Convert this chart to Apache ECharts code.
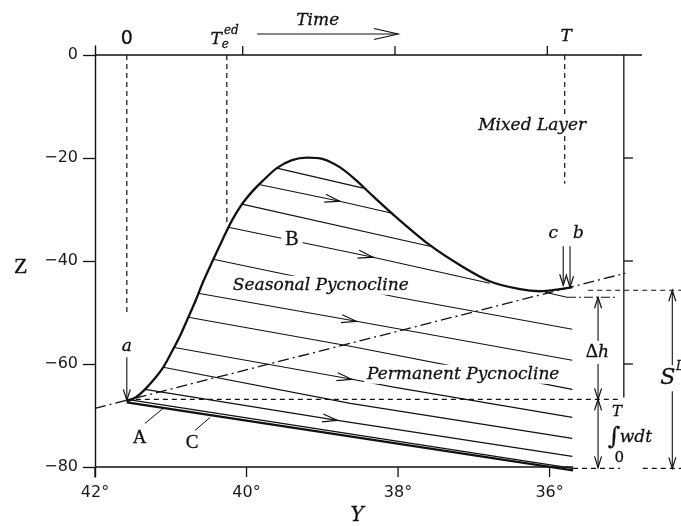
<!DOCTYPE html>
<html>
<head>
<meta charset="utf-8">
<script src="https://cdn.jsdelivr.net/npm/echarts@6/dist/echarts.min.js"></script>
<style>
  html, body { margin: 0; padding: 0; background: #fff; }
  #chart { width: 681px; height: 526px; }
</style>
</head>
<body>
<div id="chart"></div>
<script>
// ---- axis ticks ----
const zTicks = [-80, -60, -40, -20, 0];
const latTicks = [42, 40, 38, 36];
const timeTicks = [40.05, 38.04, 36.03];

// ---- base of the mixed layer through the year (latitude, depth) ----
const upperBoundary = [
  [41.58, -67.25], [41.46, -66.47], [41.34, -64.92], [41.22, -62.97], [41.10, -60.64],
  [40.99, -57.73], [40.88, -54.62], [40.78, -51.31], [40.67, -47.62], [40.57, -43.93],
  [40.45, -40.04], [40.32, -35.96], [40.19, -32.07], [40.06, -28.96], [39.92, -26.43],
  [39.79, -24.49], [39.60, -21.96], [39.40, -20.41], [39.20, -19.92], [38.99, -20.21],
  [38.77, -21.77], [38.57, -24.10], [38.33, -27.41], [38.01, -31.68], [37.58, -36.93],
  [37.18, -40.82], [36.79, -43.93], [36.39, -45.48], [36.13, -45.87], [35.86, -45.48],
  [35.70, -45.09]
];

// ---- isopycnal streamlines leaving the mixed layer ----
const streamlines = [
  [[39.60, -21.96], [38.46, -25.85]],
  [[39.82, -25.18], [38.77, -28.38], [38.08, -30.71]],
  [[40.06, -28.96], [37.58, -37.12]],
  [[40.24, -33.43], [38.33, -39.26], [36.79, -44.31]],
  [[40.44, -39.65], [39.62, -42.18], [38.01, -47.04], [35.70, -53.26]],
  [[40.64, -46.26], [38.55, -51.70], [35.70, -59.28]],
  [[40.77, -50.92], [38.63, -56.56], [35.70, -64.92]],
  [[40.97, -56.75], [38.61, -62.97], [38.04, -64.53], [35.70, -70.36]],
  [[41.10, -60.64], [38.63, -67.64], [35.70, -74.44]],
  [[41.34, -64.92], [38.80, -70.94], [35.70, -77.94]]
];
// arrow heads on streamlines: [tipY, tipZ, fromY, fromZ]
const streamArrows = [
  [38.77, -28.38, 39.82, -25.18],
  [38.33, -39.26, 40.24, -33.43],
  [38.55, -51.70, 40.64, -46.26],
  [38.61, -62.97, 40.97, -56.75],
  [38.80, -70.94, 41.34, -64.92]
];

// ---- bottom of the subducted layer (A, C) ----
const lineA = [[41.58, -67.44], [35.69, -80.66]];
const lineC = [[41.58, -66.86], [35.69, -80.27]];

// ---- frame and guides ----
const topEdge = [[42, 0], [34.78, 0]];
const bottomEdge = [[42, -80], [35.69, -80]];
const bottomTickDepth = [-80, -81.94];
const rightEdge = [[35.02, 0], [35.02, -66.5]];
const rightTicks = [-20, -40, -60];
const timeVerticals = [[41.58, -50.53], [40.26, -32.46], [35.80, -25.0]];
const winterLevel = [[41.58, -66.86], [35.10, -66.86]];
const mixedLayerSlope = [[42, -68.61], [35.00, -42.37]];
const dhTopSolid = [[36.06, -46.06], [35.77, -47.04]];
const dhTopDashDot = [[35.77, -47.04], [35.11, -47.04]];
const slTop = [[35.49, -45.68], [34.26, -45.68]];
const slBottom = [[[35.69, -80.27], [35.07, -80.27]], [[34.77, -80.27], [34.26, -80.27]]];
const timeArrowLine = [[39.86, 4.08], [38.0, 4.08]];
const leaderA = [[41.34, -71.53], [41.10, -68.61]];
const leaderC = [[40.68, -72.89], [40.48, -70.36]];

// pointer arrows: [startY, startZ, endY, endZ]
const pointerA = [41.58, -58.70, 41.58, -67.06];
const pointerB = [35.73, -37.12, 35.73, -45.09];
const pointerC = [35.82, -37.12, 35.82, -44.70];
const deltaH = [35.36, -47.04, 35.36, -66.86];
const wdtSpan = [35.36, -66.86, 35.36, -80.08];
const subductionSpan = [34.38, -45.68, 34.38, -80.27];

// ---- text annotations ----
const annotations = [
  { text: '0', at: [41.58, 3.11], kind: 'sansBig' },
  { text: 'T', at: [40.40, 2.92], kind: 'italic' },
  { text: 'ed', at: [40.20, 4.76], kind: 'italicSmall' },
  { text: 'e', at: [40.28, 2.0], kind: 'italicSmall' },
  { text: 'Time', at: [39.06, 6.61], kind: 'italic' },
  { text: 'T', at: [35.78, 3.50], kind: 'italic' },
  { text: 'Mixed Layer', at: [36.23, -13.61], kind: 'italicBox' },
  { text: 'B', at: [39.40, -35.96], kind: 'romanBox' },
  { text: 'Seasonal Pycnocline', at: [39.02, -44.70], kind: 'italicBox' },
  { text: 'Permanent Pycnocline', at: [37.14, -62.00], kind: 'italicBox' },
  { text: 'a', at: [41.58, -56.6], kind: 'italic' },
  { text: 'A', at: [41.41, -74.44], kind: 'roman' },
  { text: 'C', at: [40.72, -75.41], kind: 'roman' },
  { text: 'c', at: [35.95, -34.60], kind: 'italic' },
  { text: 'b', at: [35.62, -34.60], kind: 'italic' },
  { text: '{r|Δ}{i|h}', at: [35.37, -57.73], kind: 'deltaBox' },
  { text: 'T', at: [35.11, -69.39], kind: 'italicSmall2' },
  { text: '∫', at: [35.15, -74.25], kind: 'integral' },
  { text: 'wdt', at: [34.86, -74.25], kind: 'italic' },
  { text: '0', at: [35.08, -78.33], kind: 'romanSmall' },
  { text: 'S', at: [34.44, -62.78], kind: 'italicBigBox' },
  { text: 'L', at: [34.28, -60.6], kind: 'italicSmall' },
  { text: 'Z', at: [42.98, -41.21], kind: 'romanBig' },
  { text: 'Y', at: [38.54, -89.41], kind: 'italicBig' }
];

const ink = '#111';
const SERIF = "'DejaVu Serif', serif";
const TIMES = "'Liberation Serif', serif";
const labelKinds = {
  sansBig: { fontFamily: "'DejaVu Sans', sans-serif", fontSize: 19 },
  italic: { fontFamily: SERIF, fontStyle: 'italic', fontSize: 17 },
  italicSmall: { fontFamily: SERIF, fontStyle: 'italic', fontSize: 12 },
  italicSmall2: { fontFamily: SERIF, fontStyle: 'italic', fontSize: 15 },
  italicBig: { fontFamily: SERIF, fontStyle: 'italic', fontSize: 20 },
  italicBox: { fontFamily: SERIF, fontStyle: 'italic', fontSize: 17, backgroundColor: '#fff', padding: [1, 3] },
  italicBigBox: { fontFamily: SERIF, fontStyle: 'italic', fontSize: 22, backgroundColor: '#fff', padding: [2, 1] },
  roman: { fontFamily: TIMES, fontSize: 19 },
  romanSmall: { fontFamily: SERIF, fontSize: 15 },
  romanBig: { fontFamily: TIMES, fontSize: 22 },
  romanBox: { fontFamily: TIMES, fontSize: 20, backgroundColor: '#fff', padding: [0, 4] },
  integral: { fontFamily: SERIF, fontStyle: 'italic', fontSize: 24 },
  deltaBox: {
    backgroundColor: '#fff', padding: [2, 1],
    rich: {
      r: { fontFamily: TIMES, fontSize: 19, color: ink, textBorderColor: ink, textBorderWidth: 0.3 },
      i: { fontFamily: SERIF, fontStyle: 'italic', fontSize: 17, color: ink, textBorderColor: ink, textBorderWidth: 0.3 }
    }
  }
};

function seg(coords, style) {
  return { coords: coords, lineStyle: Object.assign({ color: ink, width: 1, opacity: 1, type: 'solid' }, style || {}) };
}
const dashed = { type: [5, 4], width: 1.2 };
const dashDot = { type: [11, 4, 2, 4], width: 1.3 };

const lineItems = [];
streamlines.forEach(s => lineItems.push(seg(s, { width: 1.1 })));
lineItems.push(seg(lineC, { width: 1.2 }));
lineItems.push(seg(lineA, { width: 2.4 }));
lineItems.push(seg(topEdge, { width: 1.6 }));
lineItems.push(seg(bottomEdge, { width: 1.4 }));
latTicks.forEach(y => lineItems.push(seg([[y, bottomTickDepth[0]], [y, bottomTickDepth[1]]], { width: 1.3 })));
lineItems.push(seg(rightEdge, { width: 1.3 }));
rightTicks.forEach(z => lineItems.push(seg([[35.02, z], [34.90, z]], { width: 1.3 })));
timeTicks.forEach(y => lineItems.push(seg([[y, 0], [y, 1.75]], { width: 1.3 })));
timeVerticals.forEach(v => lineItems.push(seg([[v[0], 0], v], dashed)));
lineItems.push(seg(winterLevel, dashed));
lineItems.push(seg(mixedLayerSlope, dashDot));
lineItems.push(seg(dhTopSolid, { width: 1.1 }));
lineItems.push(seg(dhTopDashDot, { type: [9, 3, 2, 3], width: 1.2 }));
lineItems.push(seg(slTop, dashed));
slBottom.forEach(s => lineItems.push(seg(s, dashed)));
lineItems.push(seg(timeArrowLine, { width: 1.1 }));
lineItems.push(seg(leaderA, { width: 1 }));
lineItems.push(seg(leaderC, { width: 1 }));
[pointerA, pointerB, pointerC, deltaH, wdtSpan, subductionSpan].forEach(p =>
  lineItems.push(seg([[p[0], p[1]], [p[2], p[3]]], { width: 1.1 })));

// arrow head records: [tipY, tipZ, fromY, fromZ]
function endArrow(p) { return [p[2], p[3], p[0], p[1]]; }
function startArrow(p) { return [p[0], p[1], p[2], p[3]]; }
const pointerHeads = [
  endArrow(pointerA), endArrow(pointerB), endArrow(pointerC),
  startArrow(deltaH), endArrow(deltaH),
  startArrow(wdtSpan), endArrow(wdtSpan),
  startArrow(subductionSpan), endArrow(subductionSpan)
];
const timeHead = [[timeArrowLine[1][0], timeArrowLine[1][1], timeArrowLine[0][0], timeArrowLine[0][1]]];

function arrowSeries(rows, len, hw) {
  return {
    type: 'custom',
    coordinateSystem: 'cartesian2d',
    silent: true,
    clip: false,
    z: 5,
    data: rows,
    renderItem: function (params, api) {
      const tip = api.coord([api.value(0), api.value(1)]);
      const from = api.coord([api.value(2), api.value(3)]);
      let dx = tip[0] - from[0], dy = tip[1] - from[1];
      const d = Math.hypot(dx, dy) || 1;
      dx /= d; dy /= d;
      const bx = tip[0] - dx * len, by = tip[1] - dy * len;
      return {
        type: 'polyline',
        shape: { points: [[bx - dy * hw, by + dx * hw], tip, [bx + dy * hw, by - dx * hw]] },
        style: { stroke: ink, fill: null, lineWidth: 1.2 }
      };
    }
  };
}

const labelData = annotations.map(a => {
  const k = labelKinds[a.kind];
  return {
    value: a.at,
    label: Object.assign({
      show: true, position: 'inside', formatter: a.text, color: ink, opacity: 1,
      textBorderColor: ink, textBorderWidth: 0.3
    }, k)
  };
});

const chart = echarts.init(document.getElementById('chart'), null, { renderer: 'canvas' });
chart.setOption({
  animation: false,
  backgroundColor: '#fff',
  grid: { left: 95, right: 39, top: 46, bottom: 49 },
  xAxis: {
    type: 'value', inverse: true, min: 34.78, max: 42,
    axisLine: { show: false, onZero: false },
    axisTick: { show: false },
    axisLabel: {
      customValues: latTicks, formatter: v => v + '°', margin: 8,
      fontFamily: "'DejaVu Sans', sans-serif", fontSize: 16, color: '#1a1a1a'
    },
    splitLine: { show: false }
  },
  yAxis: {
    type: 'value', min: -81.94, max: 1.75,
    axisLine: { show: true, onZero: false, lineStyle: { color: ink, width: 1.4 } },
    axisTick: { show: true, inside: false, length: 12, customValues: zTicks, lineStyle: { color: ink, width: 1.3 } },
    axisLabel: {
      customValues: zTicks, formatter: v => (v < 0 ? '−' + Math.abs(v) : String(v)), margin: 17,
      fontFamily: "'DejaVu Sans', sans-serif", fontSize: 16, color: '#1a1a1a'
    },
    splitLine: { show: false }
  },
  series: [
    {
      type: 'lines', coordinateSystem: 'cartesian2d', polyline: true, clip: false,
      silent: true, z: 2, data: lineItems
    },
    {
      type: 'line', data: upperBoundary, smooth: 0.3, showSymbol: false, symbol: 'none',
      lineStyle: { color: ink, width: 2.3 }, z: 3, silent: true
    },
    arrowSeries(streamArrows, 15, 4),
    arrowSeries(pointerHeads, 11, 3.5),
    arrowSeries(timeHead, 24, 5.5),
    {
      type: 'scatter', data: labelData, symbol: 'circle', symbolSize: 1, clip: false, silent: true, z: 10,
      itemStyle: { color: 'rgba(0,0,0,0)' }
    }
  ]
});
</script>
</body>
</html>
